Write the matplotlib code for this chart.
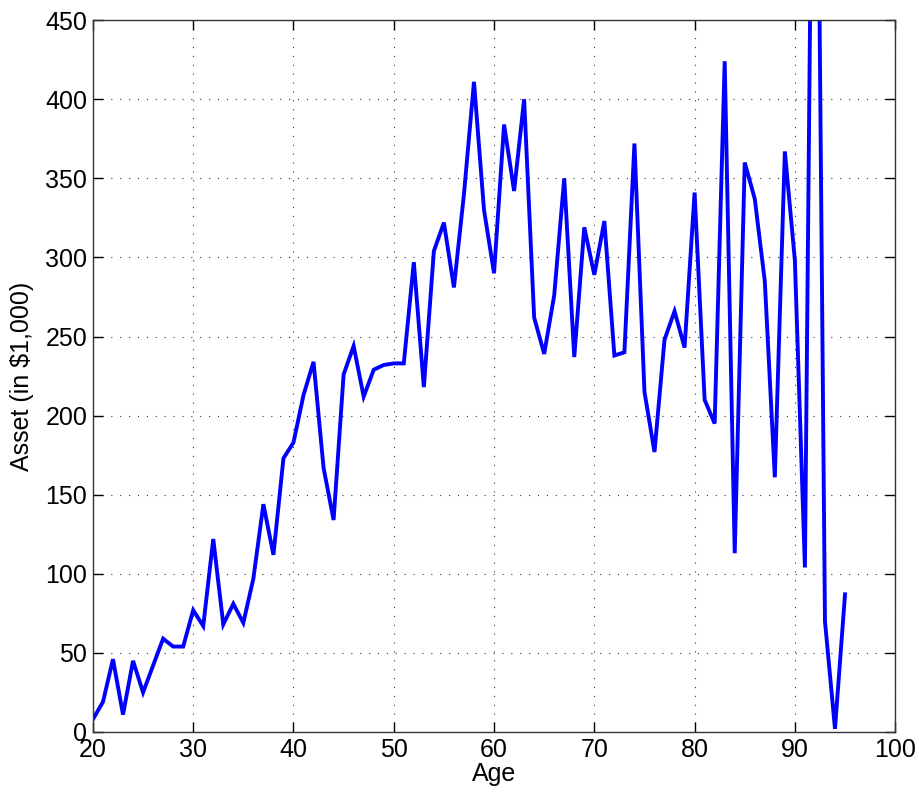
"""Asset by age line chart (MATLAB-style look)."""

import matplotlib

matplotlib.use("Agg")
import matplotlib.pyplot as plt

ages = list(range(20, 96))
assets = [
    8, 19, 46, 11, 45, 25, 42, 59, 54, 54,          # 20-29
    77, 67, 122, 68, 81, 69, 97, 144, 112, 173,     # 30-39
    183, 213, 234, 167, 134, 226, 244, 212, 229, 232,  # 40-49
    233, 233, 297, 218, 304, 322, 281, 340, 411, 330,  # 50-59
    290, 384, 342, 400, 262, 239, 276, 350, 237, 319,  # 60-69
    289, 323, 238, 240, 372, 215, 177, 248, 266, 243,  # 70-79
    341, 210, 195, 424, 113, 360, 337, 285, 161, 367,  # 80-89
    298, 104, 780, 70, 2, 87,                       # 90-95
]
x_ticks = [20, 30, 40, 50, 60, 70, 80, 90, 100]
y_ticks = [0, 50, 100, 150, 200, 250, 300, 350, 400, 450]

plt.rcParams["font.family"] = ["Liberation Sans", "DejaVu Sans"]

fig = plt.figure(figsize=(9.2, 8.05), dpi=100)
ax = fig.add_axes([0.101, 0.0907, 0.872, 0.8843])

ax.plot(ages, assets, color="#0000ff", linewidth=2.8, solid_joinstyle="miter")

ax.set_xlim(20, 100)
ax.set_ylim(0, 450)
ax.set_xticks(x_ticks)
ax.set_yticks(y_ticks)
ax.tick_params(direction="in", length=7, width=1, labelsize=18,
               top=True, right=True, pad=4)
# sparse dotted grid like MATLAB's "grid on"
ax.grid(True, linestyle=(0, (1, 7)), color="#333333", linewidth=0.8)
for side in ax.spines.values():
    side.set_linewidth(1)
    side.set_color("#333333")

ax.set_xlabel("Age", fontsize=18, labelpad=0)
ax.set_ylabel(r"Asset (in \$1,000)", fontsize=18, labelpad=8)

fig.savefig("out.png", dpi=100)
plt.close(fig)
